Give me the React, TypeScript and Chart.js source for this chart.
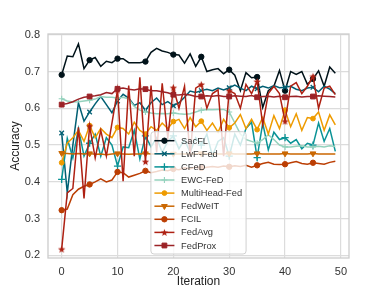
import React, { useEffect, useRef } from 'react';
import { Chart, registerables } from 'chart.js';
import { drawPoint } from 'chart.js/helpers';

Chart.register(...registerables);

const iterations = [0,1,2,3,4,5,6,7,8,9,10,11,12,13,14,15,16,17,18,19,20,21,22,23,24,25,26,27,28,29,30,31,32,33,34,35,36,37,38,39,40,41,42,43,44,45,46,47,48,49];

const seriesNames = ['SacFL', 'LwF-Fed', 'CFeD', 'EWC-FeD', 'MultiHead-Fed', 'FedWeIT', 'FCIL', 'FedAvg', 'FedProx'];

const sacfl = [0.691,0.742,0.740,0.775,0.708,0.731,0.738,0.714,0.728,0.724,0.735,0.735,0.724,0.724,0.724,0.727,0.752,0.763,0.756,0.752,0.746,0.745,0.723,0.748,0.714,0.740,0.700,0.705,0.708,0.694,0.705,0.690,0.648,0.697,0.683,0.685,0.602,0.648,0.660,0.703,0.648,0.700,0.692,0.700,0.665,0.680,0.702,0.660,0.712,0.695];
const lwfFed = [0.533,0.370,0.500,0.615,0.565,0.590,0.612,0.632,0.610,0.588,0.620,0.638,0.628,0.608,0.615,0.595,0.615,0.628,0.610,0.618,0.607,0.615,0.630,0.647,0.643,0.648,0.652,0.648,0.655,0.650,0.656,0.663,0.655,0.648,0.660,0.653,0.660,0.655,0.662,0.656,0.657,0.660,0.652,0.648,0.655,0.657,0.645,0.660,0.652,0.640];
const cfed = [0.407,0.518,0.465,0.545,0.470,0.505,0.530,0.470,0.520,0.500,0.443,0.495,0.493,0.540,0.462,0.525,0.495,0.520,0.480,0.510,0.525,0.490,0.515,0.480,0.520,0.500,0.530,0.470,0.510,0.520,0.470,0.530,0.500,0.545,0.562,0.466,0.560,0.487,0.535,0.515,0.520,0.505,0.515,0.490,0.505,0.500,0.560,0.510,0.545,0.483];
const ewcFed = [0.626,0.620,0.617,0.618,0.620,0.622,0.625,0.632,0.630,0.630,0.628,0.630,0.625,0.605,0.595,0.590,0.587,0.585,0.586,0.585,0.587,0.585,0.584,0.585,0.590,0.595,0.597,0.596,0.597,0.597,0.590,0.560,0.530,0.515,0.510,0.505,0.515,0.528,0.515,0.500,0.495,0.495,0.497,0.498,0.495,0.495,0.497,0.495,0.498,0.496];
const multiHeadFed = [0.452,0.505,0.520,0.540,0.510,0.553,0.520,0.545,0.530,0.520,0.548,0.545,0.530,0.562,0.540,0.530,0.550,0.540,0.560,0.545,0.564,0.570,0.545,0.575,0.550,0.565,0.540,0.560,0.535,0.570,0.547,0.560,0.583,0.545,0.570,0.542,0.575,0.530,0.580,0.545,0.595,0.550,0.585,0.540,0.575,0.572,0.590,0.540,0.582,0.555];
const fedWeIT = [0.478,0.477,0.476,0.477,0.476,0.477,0.475,0.476,0.474,0.476,0.477,0.476,0.475,0.476,0.476,0.477,0.476,0.476,0.475,0.476,0.476,0.476,0.476,0.476,0.476,0.477,0.476,0.476,0.476,0.476,0.477,0.476,0.476,0.476,0.476,0.477,0.476,0.476,0.476,0.476,0.477,0.476,0.476,0.476,0.476,0.477,0.476,0.476,0.476,0.476];
const fcil = [0.323,0.326,0.365,0.380,0.388,0.393,0.400,0.408,0.400,0.405,0.427,0.425,0.413,0.418,0.423,0.430,0.425,0.428,0.432,0.430,0.435,0.433,0.438,0.436,0.440,0.438,0.440,0.442,0.440,0.443,0.441,0.444,0.442,0.445,0.440,0.445,0.450,0.453,0.448,0.447,0.448,0.452,0.455,0.450,0.448,0.452,0.450,0.448,0.453,0.456];
const fedAvg = [0.217,0.370,0.382,0.548,0.355,0.552,0.465,0.540,0.470,0.560,0.650,0.402,0.662,0.470,0.684,0.455,0.662,0.480,0.668,0.520,0.656,0.600,0.660,0.470,0.655,0.665,0.600,0.640,0.650,0.470,0.648,0.640,0.600,0.665,0.640,0.673,0.555,0.640,0.660,0.640,0.565,0.660,0.670,0.640,0.660,0.687,0.600,0.655,0.660,0.637];
const fedProx = [0.610,0.613,0.618,0.625,0.630,0.632,0.634,0.637,0.643,0.640,0.653,0.655,0.652,0.650,0.653,0.652,0.648,0.648,0.645,0.642,0.637,0.636,0.638,0.636,0.632,0.632,0.634,0.633,0.635,0.632,0.632,0.634,0.633,0.632,0.635,0.630,0.632,0.633,0.631,0.633,0.630,0.632,0.633,0.631,0.632,0.632,0.634,0.633,0.632,0.631];

const seriesValues = [sacfl, lwfFed, cfed, ewcFed, multiHeadFed, fedWeIT, fcil, fedAvg, fedProx];
const seriesColors = ['#001219', '#005f73', '#0a9396', '#94d2bd', '#ee9b00', '#ca6702', '#bb3e03', '#ae2012', '#9b2226'];

const xTickValues = [0, 10, 20, 30, 40, 50];
const yTickValues = [0.2, 0.3, 0.4, 0.5, 0.6, 0.7, 0.8];

const FONT = "'Liberation Sans', Arial, sans-serif";

function makeStar(color: string) {
  const c = document.createElement('canvas');
  c.width = 9;
  c.height = 9;
  const g = c.getContext('2d')!;
  g.fillStyle = color;
  g.beginPath();
  for (let k = 0; k < 10; k++) {
    const r = k % 2 === 0 ? 3.9 : 1.6;
    const a = -Math.PI / 2 + (k * Math.PI) / 5;
    const px = 4.5 + r * Math.cos(a);
    const py = 4.9 + r * Math.sin(a);
    if (k === 0) g.moveTo(px, py);
    else g.lineTo(px, py);
  }
  g.closePath();
  g.fill();
  return c;
}

export default function App() {
  const ref = useRef<HTMLCanvasElement>(null);

  useEffect(() => {
    const canvas = ref.current!;
    const star = makeStar(seriesColors[7]);
    const markers: any[] = [
      { pointStyle: 'circle', radius: 2.7, rotation: 0, bw: 1 },
      { pointStyle: 'crossRot', radius: 3.2, rotation: 0, bw: 1.3 },
      { pointStyle: 'cross', radius: 3.6, rotation: 0, bw: 1.3 },
      { pointStyle: 'cross', radius: 3.0, rotation: 0, bw: 1.1 },
      { pointStyle: 'circle', radius: 2.4, rotation: 0, bw: 1 },
      { pointStyle: 'triangle', radius: 3.3, rotation: 180, bw: 1 },
      { pointStyle: 'circle', radius: 2.7, rotation: 0, bw: 1 },
      { pointStyle: star, radius: 3, rotation: 0, bw: 1 },
      { pointStyle: 'rect', radius: 3.4, rotation: 0, bw: 1 },
    ];

    const datasets = seriesNames.map((name, si) => {
      const m = markers[si];
      return {
        label: name,
        data: seriesValues[si].map((v, i) => ({ x: iterations[i], y: v })),
        borderColor: seriesColors[si],
        backgroundColor: seriesColors[si],
        borderWidth: 1.5,
        tension: 0,
        pointStyle: m.pointStyle,
        pointRotation: m.rotation,
        pointBorderWidth: m.bw,
        pointBorderColor: seriesColors[si],
        pointBackgroundColor: seriesColors[si],
        pointRadius: (c: any) => (c.dataIndex % 5 === 0 ? m.radius : 0),
        pointHoverRadius: 0,
        order: seriesNames.length - si,
      };
    });

    const framePlugin = {
      id: 'frame',
      beforeDatasetsDraw(chart: any) {
        const { ctx, chartArea: a } = chart;
        ctx.save();
        ctx.strokeStyle = '#cccccc';
        ctx.lineWidth = 1.3;
        ctx.strokeRect(a.left, a.top, a.right - a.left, a.bottom - a.top);
        ctx.restore();
      },
    };

    const legendPlugin = {
      id: 'innerLegend',
      afterDatasetsDraw(chart: any) {
        const { ctx, chartArea: a } = chart;
        ctx.save();
        const fs = 9.3;
        ctx.font = `${fs}px ${FONT}`;
        const textW = Math.max(...seriesNames.map((n) => ctx.measureText(n).width));
        const padL = 3.5, handle = 20, gap = 6.7, padR = 4;
        const w = padL + handle + gap + textW + padR;
        const rowH = 13.1;
        const h = rowH * (seriesNames.length - 1) + 17.5;
        const cx = (a.left + a.right) / 2;
        const x0 = cx - w / 2;
        const y1 = a.bottom - 4;
        const y0 = y1 - h;
        ctx.beginPath();
        const r = 3;
        ctx.moveTo(x0 + r, y0);
        ctx.lineTo(x0 + w - r, y0);
        ctx.arcTo(x0 + w, y0, x0 + w, y0 + r, r);
        ctx.lineTo(x0 + w, y1 - r);
        ctx.arcTo(x0 + w, y1, x0 + w - r, y1, r);
        ctx.lineTo(x0 + r, y1);
        ctx.arcTo(x0, y1, x0, y1 - r, r);
        ctx.lineTo(x0, y0 + r);
        ctx.arcTo(x0, y0, x0 + r, y0, r);
        ctx.closePath();
        ctx.fillStyle = 'rgba(255,255,255,0.8)';
        ctx.fill();
        ctx.strokeStyle = '#d0d0d0';
        ctx.lineWidth = 1;
        ctx.stroke();

        seriesNames.forEach((name, si) => {
          const y = y0 + 9 + si * rowH;
          const col = seriesColors[si];
          ctx.strokeStyle = col;
          ctx.fillStyle = col;
          ctx.lineWidth = 1.5;
          ctx.beginPath();
          ctx.moveTo(x0 + padL, y);
          ctx.lineTo(x0 + padL + handle, y);
          ctx.stroke();
          const m = markers[si];
          ctx.lineWidth = m.bw;
          drawPoint(ctx, { pointStyle: m.pointStyle, rotation: m.rotation, radius: m.radius, borderWidth: m.bw } as any, x0 + padL + handle / 2, y);
          ctx.fillStyle = '#333333';
          ctx.textBaseline = 'middle';
          ctx.textAlign = 'left';
          ctx.font = `${fs}px ${FONT}`;
          ctx.fillText(name, x0 + padL + handle + gap, y + 0.5);
        });
        ctx.restore();
      },
    };

    const chart = new Chart(canvas, {
      type: 'line',
      data: { datasets: datasets as any },
      options: {
        responsive: false,
        animation: false,
        devicePixelRatio: 1,
        events: [],
        layout: { padding: { left: 0, top: 34, right: 39, bottom: 0 } },
        plugins: { legend: { display: false }, tooltip: { enabled: false } },
        scales: {
          x: {
            type: 'linear',
            min: -2.45,
            max: 51.45,
            afterFit: (s: any) => { s.height = 33; },
            afterBuildTicks: (s: any) => { s.ticks = xTickValues.map((v) => ({ value: v })); },
            ticks: { font: { size: 11, family: FONT }, color: '#333333', padding: 7, maxRotation: 0, autoSkip: false, callback: (v: any) => String(v) },
            grid: { color: '#dcdcdc', lineWidth: 1.2, drawTicks: false },
            border: { display: false },
            title: { display: true, text: 'Iteration', font: { size: 12, family: FONT }, color: '#222222', padding: { top: 0, bottom: 2 } },
          },
          y: {
            type: 'linear',
            min: 0.193,
            max: 0.802,
            afterFit: (s: any) => { s.width = 48; },
            afterBuildTicks: (s: any) => { s.ticks = yTickValues.map((v) => ({ value: v })); },
            ticks: { font: { size: 11, family: FONT }, color: '#333333', padding: 8, autoSkip: false, callback: (v: any) => Number(v).toFixed(1) },
            grid: { color: '#dcdcdc', lineWidth: 1.2, drawTicks: false },
            border: { display: false },
            title: { display: true, text: 'Accuracy', font: { size: 12, family: FONT }, color: '#222222', padding: { top: 8, bottom: 0 } },
          },
        },
      },
      plugins: [framePlugin, legendPlugin],
    });
    return () => chart.destroy();
  }, []);

  return (
    <div style={{ position: 'fixed', left: 0, top: 0, width: 388, height: 291, background: '#ffffff' }}>
      <canvas ref={ref} width={388} height={291} style={{ display: 'block', width: 388, height: 291 }} />
    </div>
  );
}
